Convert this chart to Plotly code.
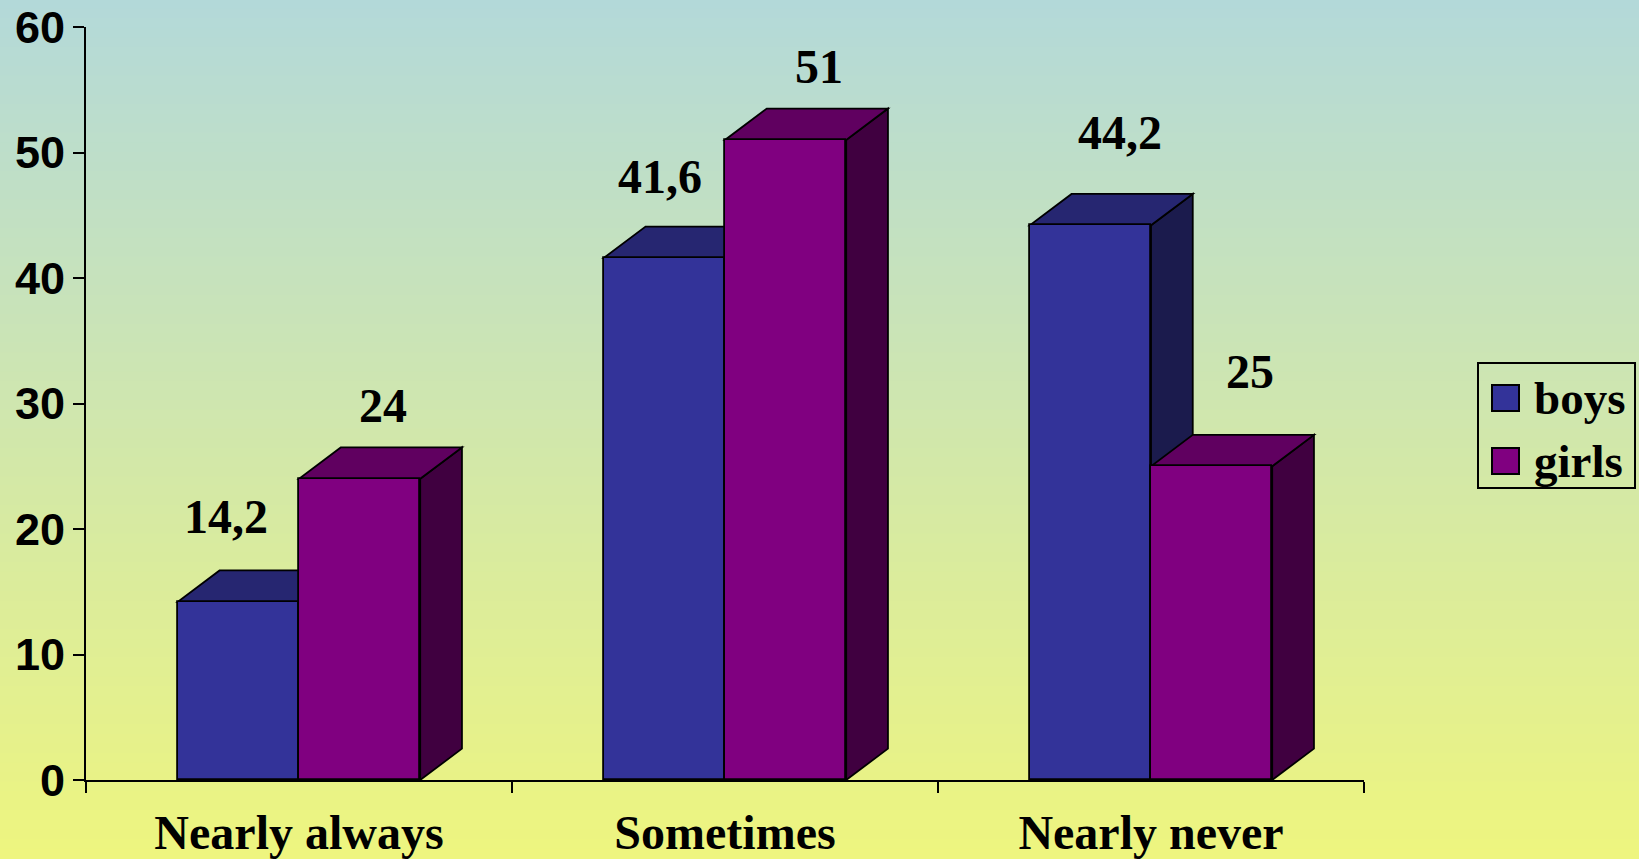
import plotly.graph_objects as go

# ---------------- data ----------------
categories = ["Nearly always", "Sometimes", "Nearly never"]
series_names = ["boys", "girls"]
boys = [14.2, 41.6, 44.2]
girls = [24, 51, 25]
y_ticks = [0, 10, 20, 30, 40, 50, 60]

# ---------------- style ----------------
W, H = 1639, 859
ML, MR, MT, MB = 86, 275, 27, 79
PW, PH = W - ML - MR, H - MT - MB

front = {"boys": "#333399", "girls": "#800080"}
topc = {"boys": "#262671", "girls": "#600060"}
sidec = {"boys": "#1b1b4d", "girls": "#400040"}

BAR_W = 0.2845      # bar width in category units
DEPTH_X = 0.098     # 3D depth (x, category units)
DEPTH_Y = 2.5       # 3D depth (y, value units)
EDGE = dict(color="black", width=1.8)

# small pixel nudges of the value labels (label placement style)
boys_label_nudge = [(-16, 0), (-8, -4), (26, 7)]
girls_label_nudge = [(-8, -6), (2, -6), (7, 16)]

SERIF = "Liberation Serif"
SANS = "Liberation Sans"


def fmt(v):
    s = ("%g" % v)
    return s.replace(".", ",")


def px2paper(px, py):
    return (px - ML) / PW, (H - MB - py) / PH


xs = list(range(len(categories)))

fig = go.Figure()

# front faces as real bars
fig.add_trace(go.Bar(x=xs, y=boys, width=BAR_W, offset=-BAR_W, name="boys",
                     marker=dict(color=front["boys"], line=EDGE), showlegend=False,
                     hoverinfo="y"))
fig.add_trace(go.Bar(x=xs, y=girls, width=BAR_W, offset=0, name="girls",
                     marker=dict(color=front["girls"], line=EDGE), showlegend=False,
                     hoverinfo="y"))

shapes = []

# background gradient (top teal -> bottom yellow)
top_rgb = (179, 217, 218)
bot_rgb = (238, 245, 126)
N = 90
for i in range(N):
    t0 = i / N
    t1 = (i + 1) / N
    tm = (t0 + t1) / 2
    c = tuple(int(round(top_rgb[k] + (bot_rgb[k] - top_rgb[k]) * tm)) for k in range(3))
    x0, ytop = px2paper(-5, t0 * H - 1)
    x1, ybot = px2paper(W + 5, t1 * H + 1)
    shapes.append(dict(type="rect", xref="paper", yref="paper", x0=x0, x1=x1,
                       y0=ybot, y1=ytop, fillcolor="rgb(%d,%d,%d)" % c,
                       line=dict(width=0), layer="below"))


def side_path(xr, v):
    return ("M %f,0 L %f,%f L %f,%f L %f,%f Z" %
            (xr, xr + DEPTH_X, DEPTH_Y, xr + DEPTH_X, v + DEPTH_Y, xr, v))


def top_path(xl, xr, v):
    return ("M %f,%f L %f,%f L %f,%f L %f,%f Z" %
            (xl, v, xr, v, xr + DEPTH_X, v + DEPTH_Y, xl + DEPTH_X, v + DEPTH_Y))


for i, c in enumerate(xs):
    for name, vals, off in (("boys", boys, -BAR_W), ("girls", girls, 0.0)):
        v = vals[i]
        xl = c + off
        xr = xl + BAR_W
        shapes.append(dict(type="path", xref="x", yref="y", path=side_path(xr, v),
                           fillcolor=sidec[name], line=EDGE, layer="below"))
        shapes.append(dict(type="path", xref="x", yref="y", path=top_path(xl, xr, v),
                           fillcolor=topc[name], line=EDGE, layer="below"))

annotations = []
LABEL_FONT = dict(family=SERIF, size=48, color="black", weight="bold")
# data labels
for i, c in enumerate(xs):
    annotations.append(dict(x=c - 0.134, y=boys[i] + 6.8, xref="x", yref="y",
                            xshift=boys_label_nudge[i][0], yshift=boys_label_nudge[i][1],
                            text=fmt(boys[i]), showarrow=False, font=LABEL_FONT))
    annotations.append(dict(x=c + 0.215, y=girls[i] + 6.3, xref="x", yref="y",
                            xshift=girls_label_nudge[i][0], yshift=girls_label_nudge[i][1],
                            text=fmt(girls[i]), showarrow=False, font=LABEL_FONT))

# manual legend
bx0, by0 = px2paper(1478, 363)
bx1, by1 = px2paper(1635, 488)
shapes.append(dict(type="rect", xref="paper", yref="paper", x0=bx0, x1=bx1, y0=by1, y1=by0,
                   line=dict(color="black", width=2), fillcolor="rgba(0,0,0,0)"))
for k, name in enumerate(series_names):
    sy = 385 + k * 63
    sx0, sy0 = px2paper(1492, sy)
    sx1, sy1 = px2paper(1519, sy + 26)
    shapes.append(dict(type="rect", xref="paper", yref="paper", x0=sx0, x1=sx1, y0=sy1, y1=sy0,
                       fillcolor=front[name], line=dict(color="black", width=2)))
    tx, ty = px2paper(1532, sy + 13)
    annotations.append(dict(x=tx, y=ty, xref="paper", yref="paper", text=name,
                            showarrow=False, xanchor="left", yanchor="middle",
                            font=dict(family=SERIF, size=47, color="black", weight="bold")))

fig.update_layout(
    width=W, height=H,
    margin=dict(l=ML, r=MR, t=MT, b=MB, pad=0, autoexpand=False),
    paper_bgcolor="rgb(210,230,170)",
    plot_bgcolor="rgba(0,0,0,0)",
    showlegend=False,
    shapes=shapes,
    annotations=annotations,
    xaxis=dict(
        range=[-0.5, 2.5], tickmode="array", tickvals=xs, ticktext=categories,
        ticks="", showgrid=False, zeroline=False, automargin=False,
        showline=True, linecolor="black", linewidth=2,
        tickfont=dict(family=SERIF, size=48, color="black", weight="bold"),
        ticklabelstandoff=9,
        minor=dict(tickmode="array", tickvals=[-0.5, 0.5, 1.5, 2.5], ticks="outside",
                   ticklen=11, tickwidth=2, tickcolor="black", showgrid=False),
        fixedrange=True,
    ),
    yaxis=dict(
        range=[0, 60], tickmode="array", tickvals=y_ticks,
        ticks="outside", ticklen=11, tickwidth=2, tickcolor="black",
        showgrid=False, zeroline=False, automargin=False,
        showline=True, linecolor="black", linewidth=2,
        tickfont=dict(family=SANS, size=45, color="black", weight="bold"),
        ticklabelstandoff=-1,
        fixedrange=True,
    ),
    bargap=0,
)

fig.write_html("out.html")
